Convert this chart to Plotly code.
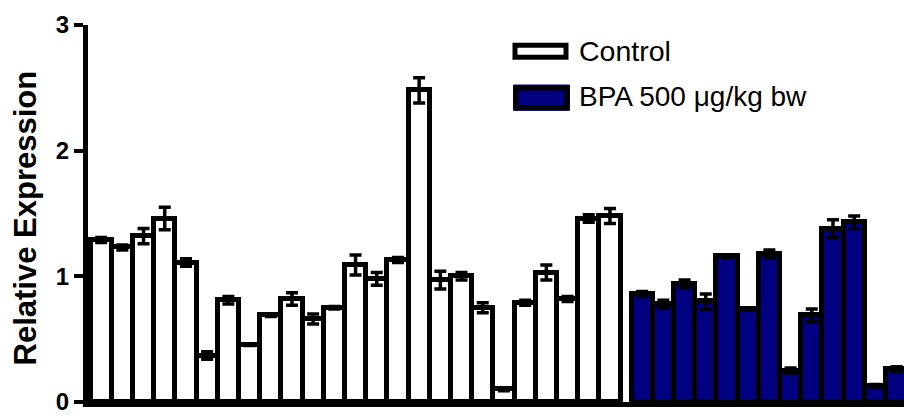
import plotly.graph_objects as go

# ---- data ----
control_values = [1.29, 1.23, 1.32, 1.46, 1.11, 0.37, 0.81, 0.45, 0.69, 0.82, 0.66, 0.75, 1.09,
                  0.98, 1.13, 2.48, 0.97, 1.00, 0.75, 0.10, 0.79, 1.03, 0.82, 1.46, 1.48]
control_errors = [0.02, 0.02, 0.06, 0.09, 0.03, 0.03, 0.03, 0.0, 0.01, 0.05, 0.04, 0.01, 0.08,
                  0.05, 0.02, 0.10, 0.07, 0.03, 0.04, 0.01, 0.02, 0.06, 0.02, 0.03, 0.06]
bpa_values = [0.86, 0.78, 0.94, 0.80, 1.16, 0.74, 1.18, 0.25, 0.69, 1.38, 1.43, 0.13, 0.26]
bpa_errors = [0.02, 0.03, 0.03, 0.06, 0.01, 0.01, 0.03, 0.02, 0.05, 0.07, 0.05, 0.01, 0.02]
y_ticks = [0, 1, 2, 3]

control_pos = list(range(len(control_values)))
bpa_pos = [len(control_values) + 0.52 + i for i in range(len(bpa_values))]

W, H = 904, 415
ML, MR, MT, MB = 88, 0, 25, 10
PW, PH = W - ML - MR, H - MT - MB


def px(x):
    return (x - ML) / PW


def py(y):
    return (H - MB - y) / PH


FONT = "Arial, Liberation Sans, sans-serif"
NAVY = "#000080"

fig = go.Figure()
fig.add_trace(go.Bar(
    x=control_pos, y=control_values, width=1,
    marker=dict(color="white", line=dict(color="black", width=5)),
    error_y=dict(type="data", array=control_errors, color="black", thickness=3.5, width=6),
    showlegend=False,
))
fig.add_trace(go.Bar(
    x=bpa_pos, y=bpa_values, width=1,
    marker=dict(color=NAVY, line=dict(color="black", width=5)),
    error_y=dict(type="data", array=bpa_errors, color="black", thickness=3.5, width=6),
    showlegend=False,
))

# legend drawn by hand (wide rectangular swatches)
shapes = [
    dict(type="rect", xref="paper", yref="paper",
         x0=px(515), x1=px(566), y0=py(57.5), y1=py(45.5),
         fillcolor="white", line=dict(color="black", width=5)),
    dict(type="rect", xref="paper", yref="paper",
         x0=px(513.5), x1=px(569.5), y0=py(111), y1=py(85.5),
         fillcolor=NAVY, line=dict(color=NAVY, width=1)),
    dict(type="rect", xref="paper", yref="paper",
         x0=px(516), x1=px(567), y0=py(108.5), y1=py(88.5),
         fillcolor=NAVY, line=dict(color="black", width=5)),
]
annotations = [
    dict(text="Control", xref="paper", yref="paper", x=px(577), y=py(51),
         xanchor="left", yanchor="middle", showarrow=False,
         font=dict(family=FONT, size=28.5, color="black")),
    dict(text="BPA 500 μg/kg bw", xref="paper", yref="paper", x=px(577), y=py(97),
         xanchor="left", yanchor="middle", showarrow=False,
         font=dict(family=FONT, size=28, color="black")),
    dict(text="Relative Expression", xref="paper", yref="paper", x=px(25), y=py(220),
         xanchor="center", yanchor="middle", showarrow=False, textangle=-90,
         font=dict(family=FONT, size=31, color="black", weight="bold")),
]

fig.update_layout(
    width=W, height=H,
    margin=dict(l=ML, r=MR, t=MT, b=MB, pad=0),
    paper_bgcolor="white", plot_bgcolor="white",
    bargap=0, barmode="overlay",
    shapes=shapes, annotations=annotations,
    showlegend=False,
    xaxis=dict(range=[-0.62, 37.87], showline=True, linecolor="black", linewidth=5,
               showticklabels=False, ticks="", showgrid=False, zeroline=False, fixedrange=True),
    yaxis=dict(range=[0, 3], tickvals=y_ticks, showline=True, linecolor="black", linewidth=5,
               ticks="outside", ticklen=9, tickwidth=4, tickcolor="black",
               ticklabeloverflow="allow",
               tickfont=dict(family=FONT, size=24, color="black", weight="bold"),
               showgrid=False, zeroline=False, fixedrange=True),
)

fig.write_html("out.html")
